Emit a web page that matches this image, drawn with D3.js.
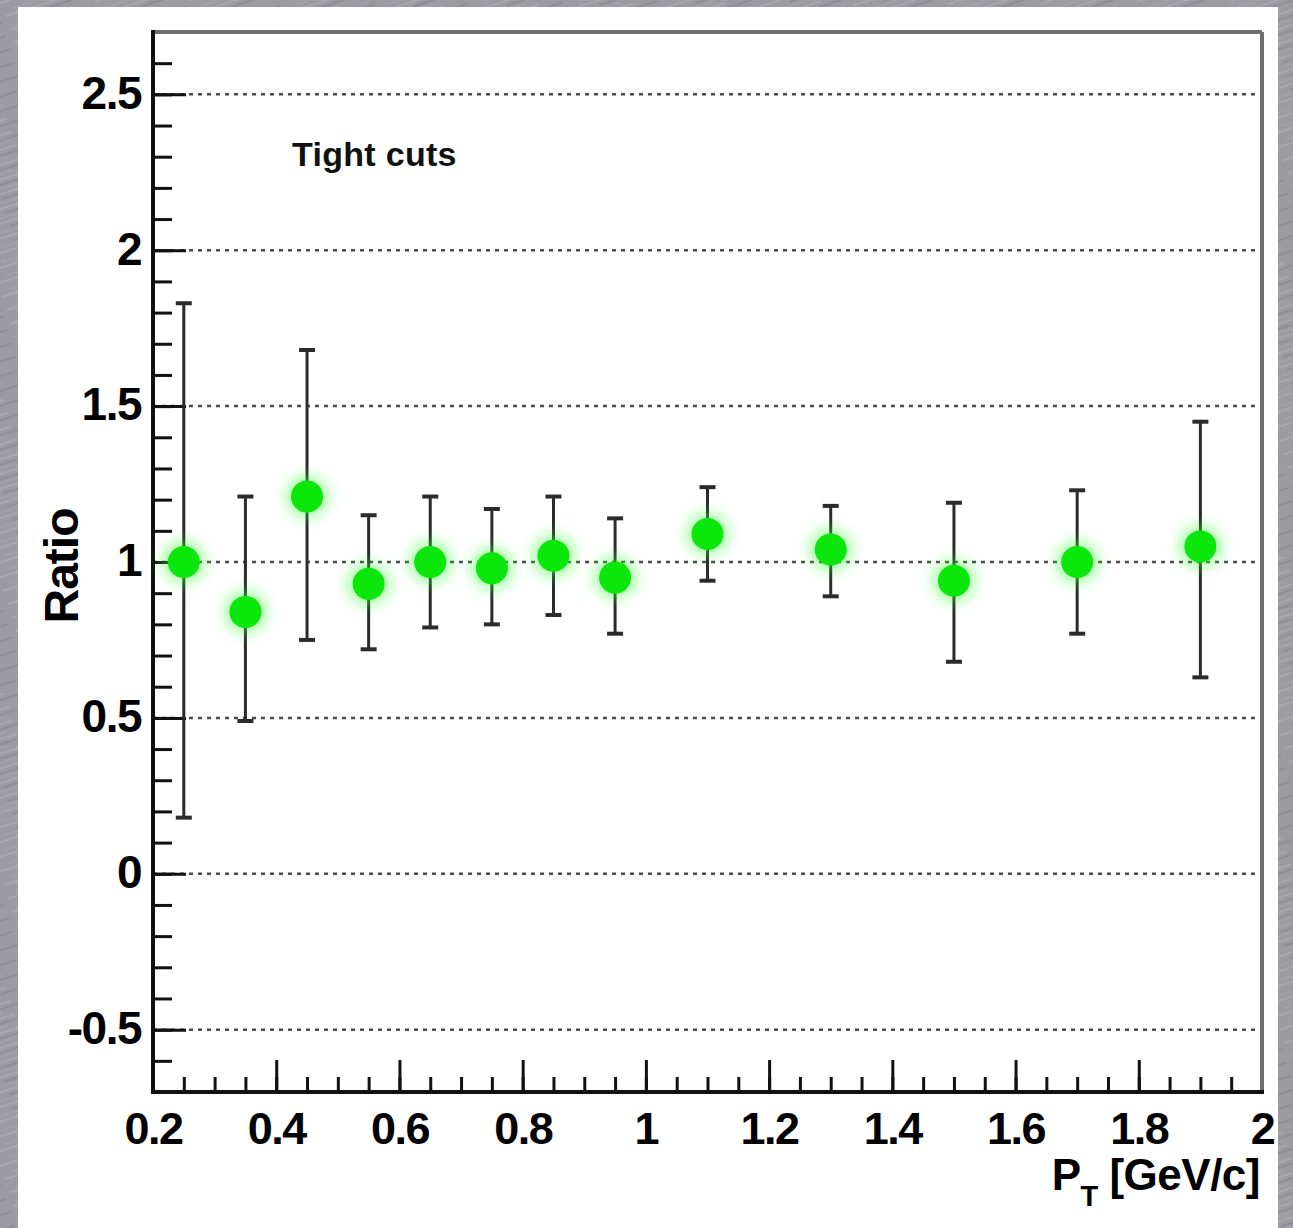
<!DOCTYPE html>
<html>
<head>
<meta charset="utf-8">
<script src="https://cdn.jsdelivr.net/npm/d3@7"></script>
<style>
  body { margin: 0; background: #9d9ca3; }
  svg { display: block; }
  text { font-family: "Liberation Sans", Arial, Helvetica, sans-serif; font-weight: bold; }
</style>
</head>
<body>
<div id="chart"></div>
<script>
// pT bin centres [GeV/c]
var ptBins = [0.25, 0.35, 0.45, 0.55, 0.65, 0.75, 0.85, 0.95, 1.1, 1.3, 1.5, 1.7, 1.9];
// ratio values and the ends of their error bars
var ratio     = [1.00, 0.84, 1.21, 0.93, 1.00, 0.98, 1.02, 0.95, 1.09, 1.04, 0.94, 1.00, 1.05];
var barTop    = [1.83, 1.21, 1.68, 1.15, 1.21, 1.17, 1.21, 1.14, 1.24, 1.18, 1.19, 1.23, 1.45];
var barBottom = [0.18, 0.49, 0.75, 0.72, 0.79, 0.80, 0.83, 0.77, 0.94, 0.89, 0.68, 0.77, 0.63];

// tick labels
var xTicks = [0.2, 0.4, 0.6, 0.8, 1, 1.2, 1.4, 1.6, 1.8, 2];
var yTicks = [-0.5, 0, 0.5, 1, 1.5, 2, 2.5];

const W = 1293, H = 1228;
const frame = {left: 153, right: 1262, top: 32, bottom: 1092};

const svg = d3.select("#chart")
  .append("svg")
    .attr("width", W)
    .attr("height", H);

const defs = svg.append("defs");

// brushed metal look for the background
const pat = defs.append("pattern")
    .attr("id", "brushed")
    .attr("width", 90).attr("height", 14)
    .attr("patternUnits", "userSpaceOnUse")
    .attr("patternTransform", "rotate(-18)");
pat.append("rect").attr("width", 90).attr("height", 14).attr("fill", "#9c9ba2");
pat.append("rect").attr("x", 0).attr("y", 2).attr("width", 60).attr("height", 2).attr("fill", "#a9a8af");
pat.append("rect").attr("x", 30).attr("y", 7).attr("width", 55).attr("height", 2).attr("fill", "#8f8e95");
pat.append("rect").attr("x", 10).attr("y", 11).attr("width", 40).attr("height", 1.5).attr("fill", "#a5a4ab");

// glow round the markers
const glow = defs.append("filter")
    .attr("id", "glow")
    .attr("x", "-100%").attr("y", "-100%")
    .attr("width", "300%").attr("height", "300%");
glow.append("feGaussianBlur").attr("stdDeviation", 7);

svg.append("rect")
    .attr("width", W).attr("height", H)
    .attr("fill", "url(#brushed)");

// white panel
svg.append("rect")
    .attr("x", 18).attr("y", 7)
    .attr("width", 1260).attr("height", H - 7)
    .attr("fill", "#ffffff");

const x = d3.scaleLinear()
  .domain([0.2, 2])
  .range([frame.left, frame.right]);

const y = d3.scaleLinear()
  .domain([-0.7, 2.7])
  .range([frame.bottom, frame.top]);

// dotted grid lines at the major y ticks
svg.append("g")
  .selectAll("line")
  .data(yTicks)
  .join("line")
    .attr("x1", frame.left)
    .attr("x2", frame.right)
    .attr("y1", d => y(d))
    .attr("y2", d => y(d))
    .attr("stroke", "#4a4a4a")
    .attr("stroke-width", 2.5)
    .attr("stroke-dasharray", "4,5");

// minor ticks
svg.append("g")
  .attr("transform", `translate(0,${frame.bottom})`)
  .call(d3.axisBottom(x).tickValues(d3.range(0.25, 2, 0.05)).tickSize(-15).tickFormat(""))
  .call(g => g.select(".domain").remove())
  .selectAll("line").attr("stroke", "#111").attr("stroke-width", 3);

svg.append("g")
  .attr("transform", `translate(${frame.left},0)`)
  .call(d3.axisLeft(y).tickValues(d3.range(-0.6, 2.75, 0.1)).tickSize(-19).tickFormat(""))
  .call(g => g.select(".domain").remove())
  .selectAll("line").attr("stroke", "#111").attr("stroke-width", 3);

// major ticks + labels
const xAxis = svg.append("g")
  .attr("transform", `translate(0,${frame.bottom})`)
  .call(d3.axisBottom(x).tickValues(xTicks).tickSize(-32).tickPadding(20)
    .tickFormat(d => String(+d.toFixed(1))));
xAxis.select(".domain").remove();
xAxis.selectAll("line").attr("stroke", "#111").attr("stroke-width", 3);
xAxis.selectAll("text")
  .attr("font-size", 45)
  .attr("letter-spacing", -1.5)
  .attr("fill", "#000");

const yAxis = svg.append("g")
  .attr("transform", `translate(${frame.left},0)`)
  .call(d3.axisLeft(y).tickValues(yTicks).tickSize(-33).tickPadding(12)
    .tickFormat(d => String(d)));
yAxis.select(".domain").remove();
yAxis.selectAll("line").attr("stroke", "#111").attr("stroke-width", 3);
yAxis.selectAll("text")
  .attr("font-size", 46)
  .attr("letter-spacing", -1.5)
  .attr("dy", "0.30em")
  .attr("fill", "#000");

// frame: gray top/right, black left/bottom
svg.append("line")
  .attr("x1", frame.left).attr("x2", frame.right)
  .attr("y1", frame.top).attr("y2", frame.top)
  .attr("stroke", "#6e6e6e").attr("stroke-width", 4);
svg.append("line")
  .attr("x1", frame.right).attr("x2", frame.right)
  .attr("y1", frame.top).attr("y2", frame.bottom)
  .attr("stroke", "#6e6e6e").attr("stroke-width", 4);
svg.append("line")
  .attr("x1", frame.left).attr("x2", frame.left)
  .attr("y1", frame.top - 2).attr("y2", frame.bottom + 2)
  .attr("stroke", "#111").attr("stroke-width", 4);
svg.append("line")
  .attr("x1", frame.left).attr("x2", frame.right + 2)
  .attr("y1", frame.bottom).attr("y2", frame.bottom)
  .attr("stroke", "#111").attr("stroke-width", 4);

const pts = ptBins.map((p, i) => ({pt: p, r: ratio[i], hi: barTop[i], lo: barBottom[i]}));

// error bars
const bars = svg.append("g").selectAll("g")
  .data(pts)
  .join("g");
bars.append("line")
  .attr("x1", d => x(d.pt)).attr("x2", d => x(d.pt))
  .attr("y1", d => y(d.hi)).attr("y2", d => y(d.lo))
  .attr("stroke", "#2b2b2b").attr("stroke-width", 3);
bars.append("line")
  .attr("x1", d => x(d.pt) - 8).attr("x2", d => x(d.pt) + 8)
  .attr("y1", d => y(d.hi)).attr("y2", d => y(d.hi))
  .attr("stroke", "#2b2b2b").attr("stroke-width", 4);
bars.append("line")
  .attr("x1", d => x(d.pt) - 8).attr("x2", d => x(d.pt) + 8)
  .attr("y1", d => y(d.lo)).attr("y2", d => y(d.lo))
  .attr("stroke", "#2b2b2b").attr("stroke-width", 4);

// glowing green markers
svg.append("g").selectAll("circle")
  .data(pts)
  .join("circle")
    .attr("cx", d => x(d.pt))
    .attr("cy", d => y(d.r))
    .attr("r", 21)
    .attr("fill", "#3cff3c")
    .attr("opacity", 0.5)
    .attr("filter", "url(#glow)");

svg.append("g").selectAll("circle")
  .data(pts)
  .join("circle")
    .attr("cx", d => x(d.pt))
    .attr("cy", d => y(d.r))
    .attr("r", 16)
    .attr("fill", "#0be60b");

// labels
svg.append("text")
  .attr("x", 292).attr("y", 166)
  .attr("font-size", 34)
  .attr("letter-spacing", 0.3)
  .attr("fill", "#111")
  .text("Tight cuts");

svg.append("text")
  .attr("transform", "rotate(-90)")
  .attr("x", -566).attr("y", 78)
  .attr("text-anchor", "middle")
  .attr("font-size", 48)
  .attr("letter-spacing", -1)
  .attr("fill", "#000")
  .text("Ratio");

const xl = svg.append("text")
  .attr("x", 1260).attr("y", 1190)
  .attr("text-anchor", "end")
  .attr("font-size", 44)
  .attr("letter-spacing", -0.5)
  .attr("fill", "#000");
xl.append("tspan").text("P");
xl.append("tspan").attr("font-size", 29).attr("dy", 16).text("T");
xl.append("tspan").attr("dy", -16).text(" [GeV/c]");
</script>
</body>
</html>
